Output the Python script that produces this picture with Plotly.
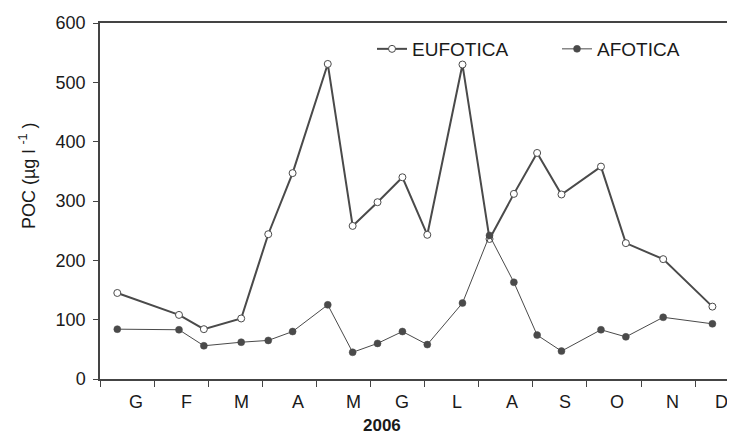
import plotly.graph_objects as go

# sampling dates expressed in months from 1 Jan (0 = start of January)
sample_month = [0.32, 1.46, 1.92, 2.61, 3.11, 3.56, 4.21, 4.67, 5.13, 5.59,
                6.05, 6.70, 7.20, 7.65, 8.08, 8.53, 9.26, 9.72, 10.41, 11.32]
eufotica = [145, 108, 84, 102, 244, 347, 531, 258, 298, 340,
            243, 530, 236, 312, 381, 311, 358, 229, 202, 122]
afotica = [84, 83, 56, 62, 65, 80, 125, 45, 60, 80,
           58, 128, 242, 163, 74, 47, 83, 71, 104, 93]
month_labels = ["G", "F", "M", "A", "M", "G", "L", "A", "S", "O", "N", "D"]
month_label_pos = [0.66, 1.60, 2.62, 3.66, 4.68, 5.58, 6.60, 7.62, 8.60, 9.56, 10.59, 11.48]
month_ticks = list(range(0, 12))
y_ticks = [0, 100, 200, 300, 400, 500, 600]

LINE = "#4a4a4a"
TXT = "#1a1a1a"
FONT = "Liberation Sans, Arial, sans-serif"

# page body has an 8px default margin -> figure is placed at (8, 8)
OFF = 8
W, H = 735 - OFF, 434 - OFF
L, T = 100 - OFF, 23 - OFF
B = H - (379 - OFF)
PW, PH = W - L, H - T - B

fig = go.Figure()
fig.add_trace(go.Scatter(
    x=sample_month, y=eufotica, name="EUFOTICA", mode="lines+markers",
    line=dict(color=LINE, width=2), legendwidth=140,
    marker=dict(symbol="circle", size=7, color="white", line=dict(color=LINE, width=1)),
))
fig.add_trace(go.Scatter(
    x=sample_month, y=afotica, name="AFOTICA", mode="lines+markers",
    line=dict(color=LINE, width=1), legendwidth=85,
    marker=dict(symbol="circle", size=7, color=LINE, line=dict(color=LINE, width=0.5)),
))

annotations = []
for lab, pos in zip(month_labels, month_label_pos):
    annotations.append(dict(x=pos, y=0, xref="x", yref="paper", text=lab,
                            showarrow=False, yanchor="middle", yshift=-23,
                            font=dict(size=18, color=TXT, family=FONT)))
annotations.append(dict(x=(382 - 100) / PW, y=0, xref="paper", yref="paper",
                        text="<b>2006</b>", showarrow=False, yanchor="middle",
                        yshift=-46, font=dict(size=17, color=TXT, family=FONT)))
annotations.append(dict(x=(27 - 100) / PW, y=(379 - 176) / PH, xref="paper", yref="paper",
                        text="POC (µg l <sup>-1</sup> )", showarrow=False, textangle=-90,
                        xanchor="center", yanchor="middle",
                        font=dict(size=18, color=TXT, family=FONT)))

fig.update_layout(
    width=W, height=H,
    margin=dict(l=L, r=0, t=T, b=B, pad=0, autoexpand=False),
    paper_bgcolor="white", plot_bgcolor="white",
    font=dict(family=FONT, color=TXT, size=18),
    showlegend=True,
    legend=dict(orientation="h", x=(372 - 100) / PW, xanchor="left",
                y=(379 - 49) / PH, yanchor="middle",
                bgcolor="rgba(0,0,0,0)",
                font=dict(size=19, color=TXT, family=FONT)),
    xaxis=dict(range=[0, PW / 54.1], tickvals=month_ticks, showticklabels=False,
               ticks="outside", ticklen=6, tickcolor="#444", showline=True,
               linecolor="#444", linewidth=1.5, mirror=True, showgrid=False, zeroline=False),
    yaxis=dict(range=[0, 600], tickvals=y_ticks, ticks="outside", ticklen=5,
               tickcolor="#444", showline=True, linecolor="#444", linewidth=1.5,
               showgrid=False, zeroline=False, ticklabelstandoff=4,
               tickfont=dict(size=18, color=TXT, family=FONT)),
    annotations=annotations,
)

fig.write_html("out.html")
